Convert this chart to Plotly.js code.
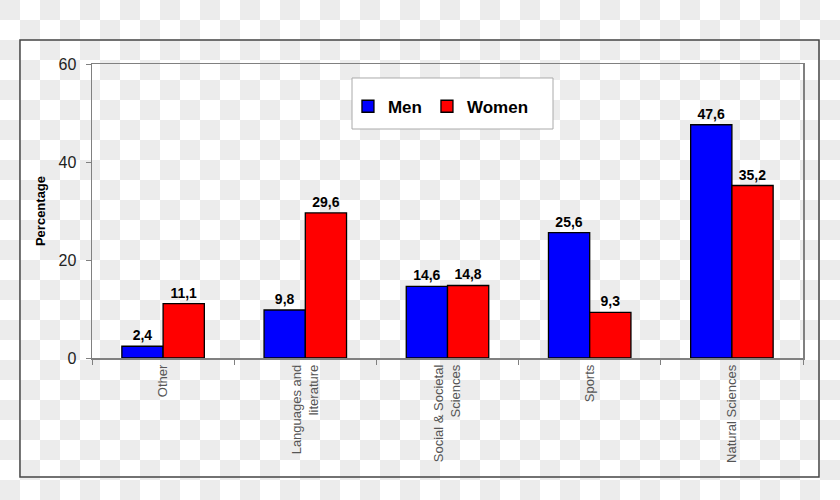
<!DOCTYPE html>
<html>
<head>
<meta charset="utf-8">
<script src="https://cdn.plot.ly/plotly-3.0.1.min.js"></script>
<style>
html, body { margin: 0; padding: 0; }
body {
  width: 840px; height: 500px; overflow: hidden;
  background: repeating-conic-gradient(#ffffff 0% 25%, #ececec 0% 50%) 0 0 / 40px 40px;
}
#chart { width: 840px; height: 500px; }
</style>
</head>
<body>
<div id="chart"></div>
<script>
const categories = ["Other", "Languages and<br>literature", "Social & Societal<br>Sciences", "Sports", "Natural Sciences"];
const menValues = [2.4, 9.8, 14.6, 25.6, 47.6];
const womenValues = [11.1, 29.6, 14.8, 9.3, 35.2];
const menLabels = ["2,4", "9,8", "14,6", "25,6", "47,6"];
const womenLabels = ["11,1", "29,6", "14,8", "9,3", "35,2"];
const yTicks = [0, 20, 40, 60];

const labelFont = {family: "Liberation Sans, Arial, sans-serif", size: 14, color: "#000", weight: "bold"};

const traces = [
  {
    type: "bar", name: "Men", x: categories, y: menValues,
    text: menLabels, textposition: "outside", textfont: labelFont, cliponaxis: false,
    marker: {color: "#0000ff", line: {color: "#000", width: 1.3}},
    hoverinfo: "x+y"
  },
  {
    type: "bar", name: "Women", x: categories, y: womenValues,
    text: womenLabels, textposition: "outside", textfont: labelFont, cliponaxis: false,
    marker: {color: "#ff0000", line: {color: "#000", width: 1.3}},
    hoverinfo: "x+y"
  }
];

const layout = {
  width: 840, height: 500,
  margin: {l: 92, r: 37, t: 64, b: 142, pad: 0},
  paper_bgcolor: "rgba(0,0,0,0)",
  plot_bgcolor: "rgba(0,0,0,0)",
  barmode: "group",
  bargap: 0.42,
  bargroupgap: 0,
  showlegend: true,
  legend: {
    orientation: "h", x: 0.360, y: 0.916, xanchor: "left", yanchor: "top",
    bgcolor: "rgba(0,0,0,0)", borderwidth: 0,
    font: {family: "Liberation Sans, Arial, sans-serif", size: 17, color: "#000", weight: "bold"},
    itemclick: false, itemdoubleclick: false
  },
  xaxis: {
    type: "category",
    showline: true, linecolor: "#808080", linewidth: 1.5, mirror: true,
    ticks: "outside", tickson: "boundaries", ticklen: 5, tickcolor: "#808080", tickwidth: 1,
    tickangle: -90,
    tickfont: {family: "Liberation Sans Narrow, Arial Narrow, sans-serif", size: 13, color: "#555"},
    showgrid: false, zeroline: false, fixedrange: true
  },
  yaxis: {
    range: [0, 60], tickvals: yTicks, ticktext: yTicks.map(String),
    showline: true, linecolor: "#808080", linewidth: 1.5, mirror: true,
    ticks: "outside", ticklen: 5, tickcolor: "#808080", tickwidth: 1,
    ticklabelstandoff: 6,
    tickfont: {family: "Liberation Sans, Arial, sans-serif", size: 16, color: "#222"},
    showgrid: false, zeroline: false, fixedrange: true,
    title: {text: "Percentage", standoff: 10,
      font: {family: "Liberation Sans, Arial, sans-serif", size: 13, color: "#000", weight: "bold"}}
  },
  shapes: [
    {type: "rect", xref: "paper", yref: "paper", x0: -0.1013, x1: 1.0225, y0: -0.4048, y1: 1.0816,
     line: {color: "#444", width: 1.5}, fillcolor: "rgba(0,0,0,0)", layer: "below"},
    {type: "rect", xref: "paper", yref: "paper", x0: 0.3657, x1: 0.6484, y0: 0.7789, y1: 0.9524,
     line: {color: "#aaa", width: 1}, fillcolor: "#ffffff", layer: "above"}
  ]
};

Plotly.newPlot("chart", traces, layout, {displayModeBar: false, staticPlot: true});
</script>
</body>
</html>
